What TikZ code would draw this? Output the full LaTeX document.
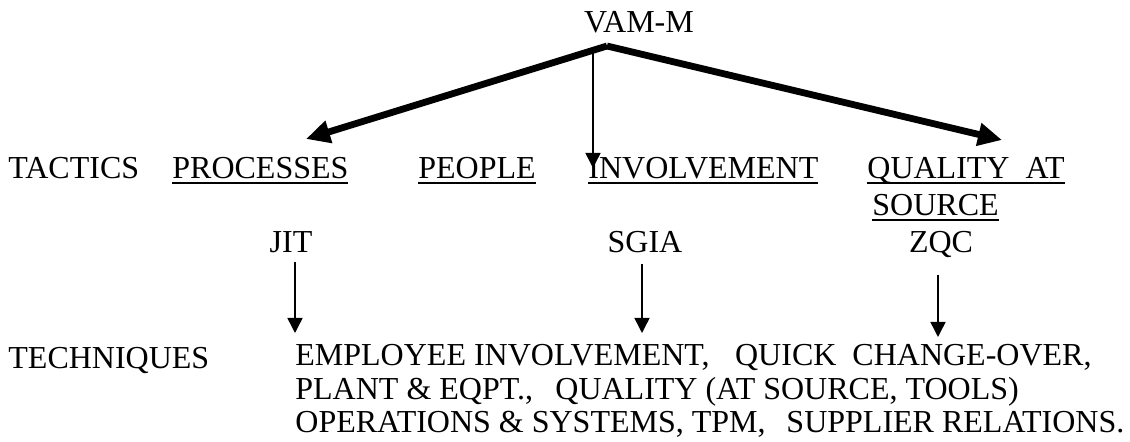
\documentclass[tikz,border=0pt]{standalone}
\usepackage{fontspec}
\setmainfont{Liberation Serif}
\usetikzlibrary{arrows.meta}
\newcommand{\ul}[1]{\setbox0\hbox{#1}\rlap{\rule[-2.4pt]{\wd0}{0.9pt}}\box0}

\begin{document}
\begin{tikzpicture}[x=0.5pt, y=-0.5pt, font=\fontsize{16}{17}\selectfont, txt/.style={inner sep=0pt, anchor=base west}, ctr/.style={inner sep=0pt, anchor=base}, bigarrow/.style={line width=3.4pt, -{Triangle[length=12pt,width=11pt]}}, smallarrow/.style={line width=0.75pt, -{Triangle[length=7.5pt,width=7.5pt]}}]

\useasboundingbox (0,0) rectangle (1130,442);

\node[ctr] (vamm) at (639, 33) {VAM-M};
\node[txt] (tactics) at (8, 179) {TACTICS};
\node[txt] (processes) at (172, 179) {\ul{PROCESSES}};
\node[txt] (people) at (418, 179) {\ul{PEOPLE}};
\node[txt] (involvement) at (588, 179) {\ul{INVOLVEMENT}};
\node[txt] (quality) at (867, 179) {\ul{QUALITY~~AT}};
\node[txt] (source) at (872, 216) {\ul{SOURCE}};
\node[ctr] (jit) at (291, 253) {JIT};
\node[ctr] (sgia) at (645, 253) {SGIA};
\node[ctr] (zqc) at (941, 253) {ZQC};
\node[txt] (techniques) at (8, 369) {TECHNIQUES};
\node[txt] (techa) at (295, 366) {EMPLOYEE INVOLVEMENT,\hspace{0.8em}QUICK\hspace{0.5em}CHANGE-OVER,};
\node[txt] (techb) at (295, 400) {PLANT \& EQPT.,\hspace{0.7em}QUALITY (AT SOURCE, TOOLS)};
\node[txt] (techc) at (295, 433) {OPERATIONS \& SYSTEMS, TPM,\hspace{0.65em}SUPPLIER RELATIONS.};

\coordinate (apex) at (607, 46);
\coordinate (apexthin) at (593, 47);
\coordinate (proctip) at (306, 139);
\coordinate (qualtip) at (1002, 140);
\coordinate (invtip) at (593, 168);

\draw [bigarrow] (apex) -- (proctip);
\draw [bigarrow] (apex) -- (qualtip);
\draw [smallarrow] (apexthin) -- (invtip);
\draw [smallarrow] ([xshift=2pt, yshift=-4pt]jit.south) -- ([xshift=2pt]jit.south |- 0, 333);
\draw [smallarrow] ([xshift=-1.5pt, yshift=-5pt]sgia.south) -- ([xshift=-1.5pt]sgia.south |- 0, 333);
\draw [smallarrow] ([xshift=-1.5pt, yshift=-8pt]zqc.south) -- ([xshift=-1.5pt]zqc.south |- 0, 337);

\end{tikzpicture}
\end{document}
